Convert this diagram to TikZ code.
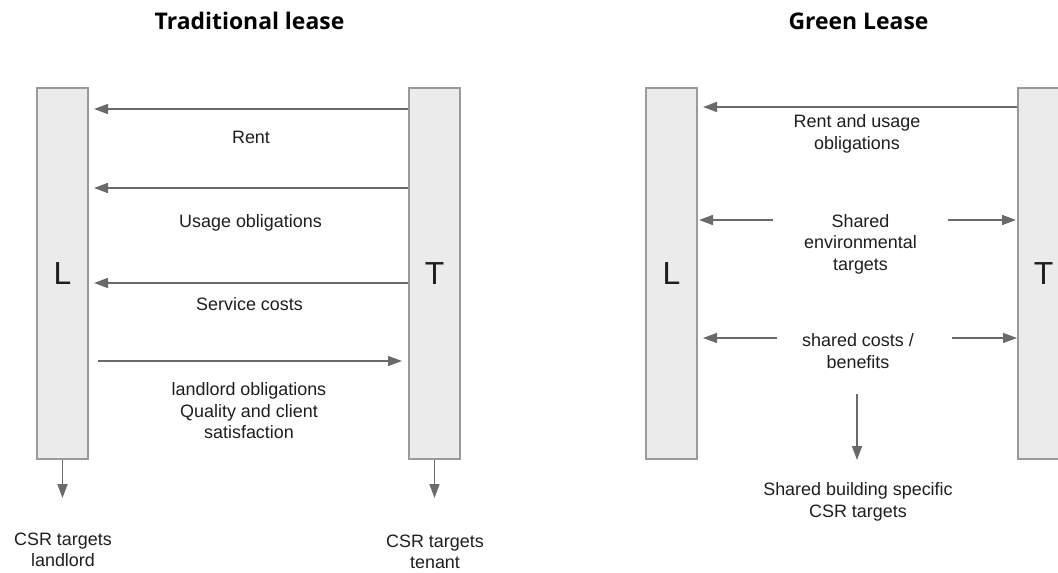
\documentclass[tikz,border=0pt]{standalone}
\usepackage{fontspec}
\setmainfont{Liberation Sans}
\newfontfamily\titlefont{Open Sans}
\usetikzlibrary{arrows.meta}
\definecolor{boxfill}{HTML}{EBEBEB}
\definecolor{boxline}{HTML}{9A9A9A}
\definecolor{arrowcol}{HTML}{6A6A6A}
\definecolor{txt}{HTML}{1E1E1E}
\begin{document}
\begin{tikzpicture}[x=1bp,y=-1bp,
  party/.style={draw=boxline, fill=boxfill, line width=2bp, minimum width=51bp,
    minimum height=371bp, inner sep=0pt, font=\fontsize{32}{36}\selectfont, text=txt},
  lbl/.style={align=center, inner sep=0pt, font=\fontsize{18}{21.5}\selectfont, text=txt},
  ttl/.style={inner sep=0pt, font=\titlefont\bfseries\fontsize{23}{26}\selectfont, text=black},
  arr/.style={draw=arrowcol, line width=1.6bp, -{Triangle[length=14bp,width=10bp]}},
  thinarr/.style={draw=arrowcol, line width=1.2bp, -{Triangle[length=14bp,width=10bp]}}]
\useasboundingbox (0,0) rectangle (1058,573);
\clip (0,0) rectangle (1058,573);
% titles
\node[ttl] (t1) at (249.5,21) {Traditional lease};
\node[ttl] (t2) at (858.5,21) {Green Lease};
% ---------- traditional lease ----------
\node[party] (L1) at (62.5,273.5) {L};
\node[party] (T1) at (434.5,273.5) {T};
\draw[arr, shorten >=5bp] (T1.west |- 0,109) -- (L1.east |- 0,109);
\node[lbl] (rent) at (251,137) {Rent};
\draw[arr, shorten >=5bp] (T1.west |- 0,188) -- (L1.east |- 0,188);
\node[lbl] (usage) at (250.5,223) {Usage obligations};
\draw[arr, shorten >=5bp] (T1.west |- 0,283) -- (L1.east |- 0,283);
\node[lbl] (serv) at (249.5,304) {Service costs};
\draw[thinarr, shorten <=9bp, shorten >=6bp] (L1.east |- 0,361) -- (T1.west |- 0,361);
\node[lbl] (lo) at (249,411) {landlord obligations\\Quality and client\\satisfaction};
\coordinate (eL) at (62.5,498);
\coordinate (eT) at (434.5,498);
\draw[arr] (L1.south) -- (eL);
\draw[arr] (T1.south) -- (eT);
\node[lbl] (csrL) at (63,550) {CSR targets\\landlord};
\node[lbl] (csrT) at (435,552) {CSR targets\\tenant};
% ---------- green lease ----------
\node[party] (L2) at (671.5,273.5) {L};
\node[party] (T2) at (1043.5,273.5) {T};
\draw[arr, shorten >=5bp] (T2.west |- 0,107) -- (L2.east |- 0,107);
\node[lbl] (rug) at (857,134) {Rent and usage\\obligations};
\node[lbl, minimum width=175bp] (env) at (860.5,244) {Shared\\environmental\\targets};
\draw[arr, shorten >=1bp] (env.west |- 0,220) -- (L2.east |- 0,220);
\draw[arr, shorten >=1bp] (env.east |- 0,220) -- (T2.west |- 0,220);
\node[lbl] (sc) at (858,351) {shared costs /\\benefits};
\coordinate (scL) at (777,338);
\coordinate (scR) at (952,338);
\draw[thinarr, shorten >=5bp] (scL) -- (L2.east |- scL);
\draw[thinarr] (scR) -- (T2.west |- scR);
\node[lbl] (sb) at (858,502) {Shared building specific\\CSR targets};
\coordinate (sbTip) at (857,460);
\draw[arr, shorten <=26bp] (sc.south -| sbTip) -- (sbTip);
\end{tikzpicture}
\end{document}
